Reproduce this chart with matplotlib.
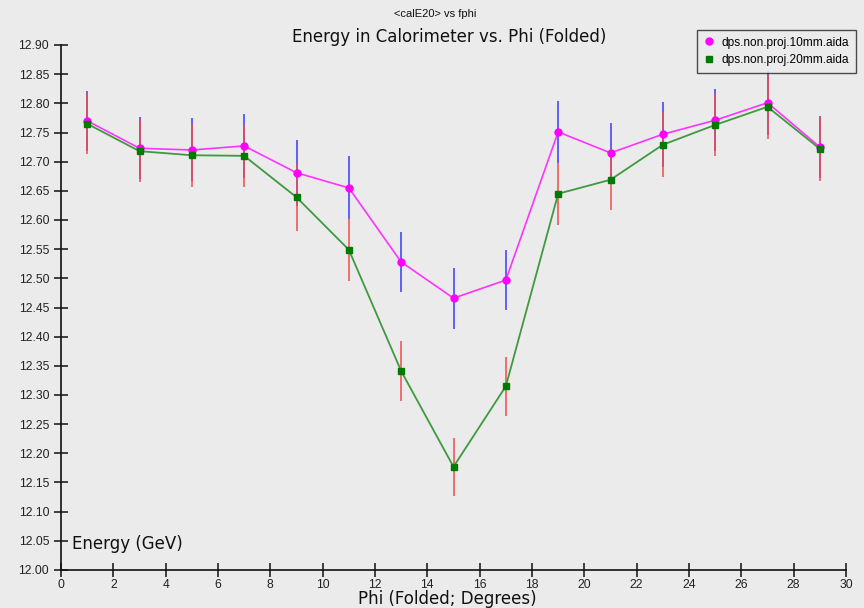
import matplotlib
matplotlib.use("Agg")
import matplotlib.pyplot as plt
from matplotlib.lines import Line2D

# Folded phi bin centres (degrees)
phi = [1, 3, 5, 7, 9, 11, 13, 15, 17, 19, 21, 23, 25, 27, 29]

# Mean calorimeter energy (GeV) per bin
e_10mm = [12.770, 12.723, 12.720, 12.727, 12.681, 12.655, 12.528, 12.466,
          12.497, 12.751, 12.715, 12.747, 12.771, 12.801, 12.725]
e_20mm = [12.765, 12.718, 12.711, 12.710, 12.639, 12.549, 12.341, 12.177,
          12.315, 12.645, 12.669, 12.729, 12.763, 12.794, 12.722]

# Errors on the means (GeV)
err_10mm = [0.052, 0.053, 0.054, 0.055, 0.057, 0.054, 0.052, 0.052,
            0.052, 0.053, 0.052, 0.056, 0.053, 0.055, 0.053]
err_20mm = [0.052, 0.053, 0.054, 0.053, 0.057, 0.053, 0.051, 0.050,
            0.051, 0.053, 0.052, 0.056, 0.053, 0.055, 0.055]

labels = ["dps.non.proj.10mm.aida", "dps.non.proj.20mm.aida"]
xticks = list(range(0, 31, 2))
yticks = [12.00 + 0.05 * i for i in range(19)]

bg = "#ebebeb"
fig = plt.figure(figsize=(8.64, 6.08), dpi=100, facecolor=bg)
ax = fig.add_axes([61 / 864, 38 / 608, 785 / 864, 525 / 608], facecolor=bg)

# Error bars: blue for 10mm, red for 20mm
ax.errorbar(phi, e_10mm, yerr=err_10mm, fmt="none", ecolor="#3a3aff",
            elinewidth=1.1, capsize=0, zorder=2)
ax.errorbar(phi, e_20mm, yerr=err_20mm, fmt="none", ecolor="#f24b4b",
            elinewidth=1.1, capsize=0, zorder=3)

ax.plot(phi, e_10mm, color="#ff33ff", lw=1.2, marker="o", ms=5,
        mfc="#ff00ff", mec="#ff00ff", zorder=4)
ax.plot(phi, e_20mm, color="#3f9a3f", lw=1.3, marker="s", ms=5,
        mfc="#007a00", mec="#007a00", zorder=5)

ax.set_xlim(0, 30)
ax.set_ylim(12.0, 12.9)
ax.set_xticks(xticks)
ax.set_yticks(yticks)
ax.set_xticklabels([str(t) for t in xticks])
ax.set_yticklabels([f"{t:.2f}" for t in yticks])

for side in ("top", "right"):
    ax.spines[side].set_visible(False)
for side in ("left", "bottom"):
    ax.spines[side].set_linewidth(1.2)
    ax.spines[side].set_color("#111111")

ax.tick_params(axis="both", direction="inout", length=10, width=1.1,
               colors="#111111", labelsize=8.7)
ax.tick_params(axis="x", pad=1.5)
for lab in ax.get_xticklabels() + ax.get_yticklabels():
    lab.set_fontfamily("Liberation Sans")
    lab.set_color("#222222")

# Titles and axis labels
fig.text(435 / 864, 1 - 14 / 608, "<calE20> vs fphi", ha="center", va="center",
         fontsize=8, family="Liberation Sans", color="#111111")
fig.text(449 / 864, 1 - 37 / 608, "Energy in Calorimeter vs. Phi (Folded)",
         ha="center", va="center", fontsize=12, family="DejaVu Sans",
         color="#111111")
fig.text(72 / 864, 1 - 544 / 608, "Energy (GeV)", ha="left", va="center",
         fontsize=12, family="DejaVu Sans", color="#111111")
fig.text(447 / 864, 1 - 599 / 608, "Phi (Folded; Degrees)", ha="center",
         va="center", fontsize=12, family="DejaVu Sans", color="#111111")

handles = [
    Line2D([], [], ls="none", marker="o", ms=5, mfc="#ff00ff", mec="#ff00ff"),
    Line2D([], [], ls="none", marker="s", ms=5, mfc="#007a00", mec="#007a00"),
]
leg = fig.legend(handles, labels, loc="upper right",
                 bbox_to_anchor=(856 / 864, 1 - 30 / 608), frameon=True,
                 fancybox=False, prop={"family": "Liberation Sans", "size": 8.6},
                 handlelength=0.8, handletextpad=0.7, borderpad=0.55,
                 labelspacing=0.45, borderaxespad=0)
leg.get_frame().set_edgecolor("#222222")
leg.get_frame().set_facecolor(bg)
leg.get_frame().set_linewidth(1.0)

fig.savefig("out.png", dpi=100, facecolor=bg)
